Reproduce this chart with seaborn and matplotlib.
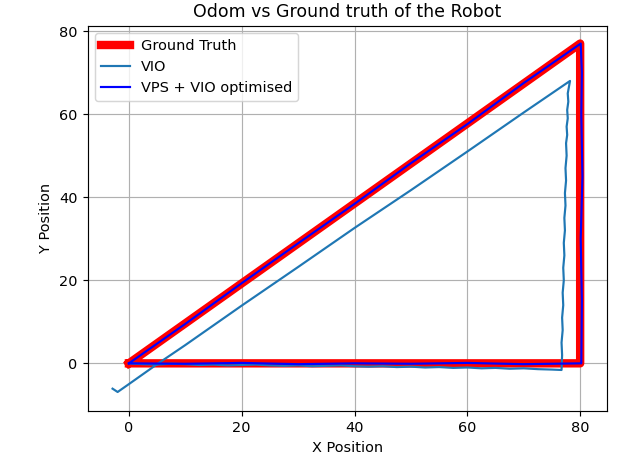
import matplotlib
matplotlib.use("Agg")
import matplotlib.pyplot as plt
import seaborn as sns
import pandas as pd

# ground truth triangle
gt_x = [0, 80, 80, 0]
gt_y = [0, 0, 77, 0]

# VIO odometry (drifts)
vio_x = [0, 2.5, 5, 7.5, 10, 12.5, 15, 17.5, 20, 22.5, 25, 27.5, 30, 32.5, 35, 37.5,
         40, 42.5, 45, 47.5, 50, 52.5, 55, 57.5, 60, 62.5, 65, 67.5, 70, 72.5, 75, 76.7,
         76.8, 76.7, 76.9, 76.8, 77.0, 76.9, 77.1, 77.0, 77.2, 77.1, 77.3, 77.2, 77.4,
         77.3, 77.5, 77.4, 77.6, 77.5, 77.7, 77.6, 77.8, 77.7, 77.9, 77.8, 78.0, 78.2,
         70, 60, 50, 40, 30, 20, 10, 5, 0, -2.0, -2.9]
vio_y = [0, -0.2, -0.3, -0.1, -0.2, -0.4, -0.3, -0.5, -0.4, -0.3, -0.5, -0.6, -0.5, -0.7, -0.6, -0.5,
         -0.7, -0.8, -0.7, -0.9, -0.8, -1.0, -0.9, -1.1, -1.0, -1.2, -1.1, -1.3, -1.2, -1.4, -1.5, -1.6,
         2, 5, 8, 11, 14, 17, 20, 23, 26, 29, 32, 35, 38,
         41, 44, 47, 50, 53, 55, 57, 59, 61, 63, 65, 66.5, 68,
         60.4, 51.0, 41.7, 32.6, 23.2, 13.9, 4.4, -0.2, -5.0, -6.9, -6.1]

# VPS + VIO optimised
vps_x = [0, 10, 20, 30, 40, 50, 60, 70, 80.2,
         80.3, 80.1, 80.4, 80.2, 80.3, 80.1,
         70, 60, 50, 40, 30, 20, 10, 0]
vps_y = [0, -0.1, 0.1, -0.2, 0.0, -0.1, 0.1, -0.2, 0.0,
         15, 30, 45, 60, 70, 77,
         67.5, 57.6, 48.2, 38.4, 28.9, 19.3, 9.5, 0]

gt = pd.DataFrame({'x': gt_x, 'y': gt_y})
vio = pd.DataFrame({'x': vio_x, 'y': vio_y})
vps = pd.DataFrame({'x': vps_x, 'y': vps_y})

# slightly higher dpi so text matches the reference size
fig, ax = plt.subplots(figsize=(620 / 104, 463 / 104), dpi=104)
fig.subplots_adjust(left=0.1415, right=0.9785, top=0.9445, bottom=0.113)

sns.lineplot(data=gt, x='x', y='y', sort=False, estimator=None, color='red', linewidth=5.8, label='Ground Truth', ax=ax)
sns.lineplot(data=vio, x='x', y='y', sort=False, estimator=None, color='#1f77b4', linewidth=1.5, label='VIO', ax=ax)
sns.lineplot(data=vps, x='x', y='y', sort=False, estimator=None, color='blue', linewidth=1.5, label='VPS + VIO optimised', ax=ax)

ax.set_xlim(-7.3, 84.7)
ax.set_ylim(-11.4, 81.3)
ax.set_title('Odom vs Ground truth of the Robot')
ax.set_xlabel('X Position')
ax.set_ylabel('Y Position')
ax.grid(True)
ax.legend(loc='upper left')

plt.savefig('out.png', dpi=104)
